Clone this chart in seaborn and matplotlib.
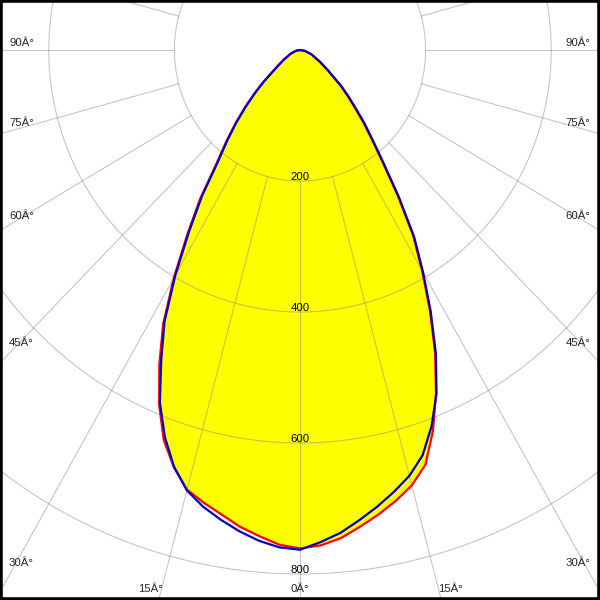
import numpy as np
import pandas as pd
import matplotlib
matplotlib.use("Agg")
import matplotlib.pyplot as plt
import seaborn as sns

# intensity (cd) vs angle from nadir (deg)
angles = [0, 2.5, 5, 7.5, 10, 12.5, 15, 17.5, 20, 22.5, 25, 27.5, 30, 32.5,
          35, 37.5, 40, 42.5, 45, 47.5, 50, 55, 60, 70, 80, 90]
blue_left = [763, 760, 752, 741, 728, 714, 696, 667, 629, 583, 523, 467, 397, 329,
             272, 214, 180, 150, 122, 97, 75, 44, 30, 15, 6, 0]
blue_right = [762, 752, 740, 724, 708, 691, 673, 649, 612, 568, 512, 451, 392, 338,
              275, 220, 181, 152, 125, 104, 86, 55, 38, 20, 8, 0]
red_left = [761, 756, 745, 734, 720, 708, 695, 668, 634, 586, 530, 472, 402, 334,
            277, 218, 183, 152, 124, 99, 77, 45, 31, 15, 6, 0]
red_right = [761, 757, 748, 734, 720, 705, 688, 664, 619, 566, 509, 448, 389, 335,
             272, 217, 178, 149, 122, 102, 84, 54, 37, 19, 8, 0]

rings = [200, 400, 600, 800, 1000]
ring_labels = [200, 400, 600, 800]
spokes = list(range(-180, 181, 15))
side_labels = [90, 75, 60, 45, 30]
bottom_labels = [15, 0, 15]


def polar_xy(ang, val):
    th = np.radians(ang)
    val = np.asarray(val, dtype=float)
    return val * np.sin(th), -val * np.cos(th)


def full_curve(left, right):
    a = [-x for x in angles[::-1]] + angles[1:]
    v = left[::-1] + right[1:]
    x, y = polar_xy(np.array(a), v)
    return pd.DataFrame({"x": x, "y": y})


red_df = full_curve(red_left, red_right)
blue_df = full_curve(blue_left, blue_right)

sns.set_style("white")
plt.rcParams["font.family"] = ["Liberation Sans", "DejaVu Sans"]

fig = plt.figure(figsize=(6, 6), dpi=100)
ax = fig.add_axes([0, 0, 1, 1])

# yellow fill under the red curve
ax.fill(red_df["x"], red_df["y"], color="#ffff00", lw=0, zorder=1)

# grid: rings and spokes
t = np.linspace(0, 2 * np.pi, 721)
for r in rings:
    gx, gy = polar_xy(np.degrees(t), np.full_like(t, r))
    ax.plot(gx, gy, color="#808080", alpha=0.45, lw=0.8, zorder=2)
for a in spokes:
    sx, sy = polar_xy(np.array([a, a]), [200, 1500])
    ax.plot(sx, sy, color="#808080", alpha=0.45, lw=0.8, zorder=2)

sns.lineplot(data=red_df, x="x", y="y", sort=False, estimator=None,
             color="#ff0000", lw=1.6, ax=ax, zorder=3)
sns.lineplot(data=blue_df, x="x", y="y", sort=False, estimator=None,
             color="#0000c8", lw=1.6, ax=ax, zorder=4)

for r in ring_labels:
    ax.text(0, -r + 2, str(r), ha="center", va="baseline", fontsize=8.2,
            color="black", zorder=5)

ax.set_xlim(-300 / 0.628, 300 / 0.628)
ax.set_ylim(-550 / 0.655, 50 / 0.655)
ax.set_xticks([])
ax.set_yticks([])
ax.set_xlabel(None)
ax.set_ylabel(None)
for s in ax.spines.values():
    s.set_color("black")
    s.set_linewidth(4)

# angle labels around the frame (pixel baselines)
side_y = [46, 126, 219, 346.5, 565.5]
for a, py in zip(side_labels, side_y):
    fig.text(9 / 600, 1 - py / 600, f"{a}Â°", ha="left", va="baseline", fontsize=8.2)
    fig.text(590 / 600, 1 - py / 600, f"{a}Â°", ha="right", va="baseline", fontsize=8.2)
for a, px in zip(bottom_labels, [150, 300, 450]):
    fig.text(px / 600, 1 - 592.5 / 600, f"{a}Â°", ha="center", va="baseline", fontsize=8.2)

fig.savefig("out.png", dpi=100)
